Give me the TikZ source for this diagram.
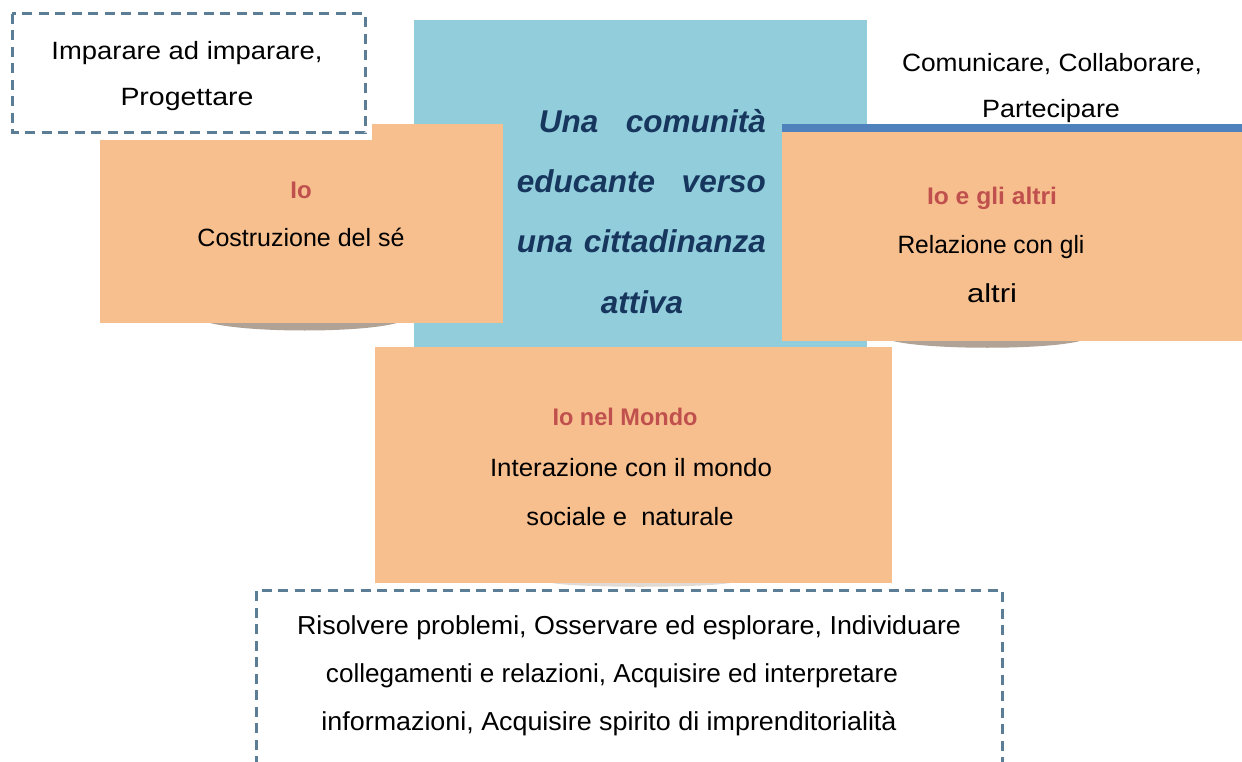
\documentclass[tikz,border=0pt]{standalone}
\usepackage{fontspec}
\setmainfont{Liberation Sans}
\usepackage{graphicx}
\definecolor{orangebox}{HTML}{F7BE8E}
\definecolor{centerblue}{HTML}{92CDDC}
\definecolor{barblue}{HTML}{4F81BD}
\definecolor{titlered}{HTML}{C0504D}
\definecolor{navytext}{HTML}{17365D}
\definecolor{dashblue}{HTML}{5B7D96}
\definecolor{shadowgrey}{HTML}{B0A395}
\newcommand{\fitw}[2]{\resizebox{#1}{\height}{#2}}
\begin{document}
\begin{tikzpicture}[x=1pt,y=-1pt,
  block/.style={draw=none,inner sep=0pt,outer sep=0pt,anchor=north west},
  orangeblock/.style={block,fill=orangebox},
  txt/.style={anchor=base,inner sep=0pt,font=\fontsize{25}{30}\selectfont},
  ttl/.style={anchor=base,inner sep=0pt,text=titlered,font=\fontsize{24}{30}\selectfont\bfseries},
  ctr/.style={anchor=base,inner sep=0pt,text=navytext,font=\fontsize{31.5}{36}\selectfont\bfseries\itshape},
  dashline/.style={draw=dashblue,line width=3pt,dash pattern=on 10pt off 6.5pt},
  shade/.style={fill=shadowgrey}]
\useasboundingbox (0,0) rectangle (1242,762);
\fill[white] (0,0) rectangle (1242,762);

% central blue box
\node[block,fill=centerblue,minimum width=453pt,minimum height=327pt] (center) at (414,20) {};

% shadows
\fill[shade] (210,323) .. controls (250,333) and (360,333) .. (397,323) -- cycle;
\fill[shade] (893,341) .. controls (930,350) and (1045,350) .. (1080,341) -- cycle;
\fill[shade,opacity=0.4] (552,583) .. controls (580,588) and (700,588) .. (730,583) -- cycle;

% left orange box
\node[orangeblock,minimum width=403pt,minimum height=199pt] (io) at (100,124) {};
% right orange box with blue bar
\node[block,fill=barblue,minimum width=460pt,minimum height=8pt] (bar) at (782,124) {};
\node[orangeblock,minimum width=460pt,minimum height=209pt] (altri) at (782,132) {};
% bottom orange box
\node[orangeblock,minimum width=517pt,minimum height=236pt] (mondo) at (375,347) {};

% top-left dashed box
\node[block,fill=white,minimum width=364pt,minimum height=132pt] (tlhalo) at (8,8) {};
\draw[dashline] (12,14) rectangle (365,133);
\node[block,minimum width=353pt,minimum height=119pt] (tlbox) at (12,14) {};

% bottom dashed box
\node[block,fill=white,minimum width=754pt,minimum height=176pt] (bhalo) at (252,588) {};
\draw[dashline] (256,766) -- (256,590) -- (1002,590) -- (1002,766);
\node[block,minimum width=746pt,minimum height=172pt] (bbox) at (256,590) {};

% texts top-left
\node[txt] (imp1) at (187,60) {\fitw{271pt}{Imparare ad imparare,}};
\node[txt] (imp2) at (187,106) {\fitw{133pt}{Progettare}};

% texts top-right
\node[txt] (com1) at (1052,72) {\fitw{300pt}{Comunicare, Collaborare,}};
\node[txt] (com2) at (1051,118) {\fitw{138pt}{Partecipare}};

% left box texts
\node[ttl] (ioT) at (301,199) {Io};
\node[txt] (ioS) at (301,247) {\fitw{207pt}{Costruzione del sé}};

% center texts
\node[ctr,anchor=base east] (c1) at (766,133) {\makebox[227pt][s]{Una comunità}};
\node[ctr,anchor=base east] (c2) at (766,193) {\makebox[249pt][s]{educante verso}};
\node[ctr,anchor=base east] (c3) at (766,252) {\makebox[249pt][s]{una cittadinanza}};
\node[ctr] (c4) at (642,313) {attiva};

% right box texts
\node[ttl] (altriT) at (992,205) {\fitw{130pt}{Io e gli altri}};
\node[txt] (altriS1) at (991,253) {\fitw{187pt}{Relazione con gli}};
\node[txt,font=\fontsize{26}{30}\selectfont] (altriS2) at (992,302) {\fitw{50pt}{altri}};

% bottom orange texts
\node[ttl] (mondoT) at (625,425) {\fitw{145pt}{Io nel Mondo}};
\node[txt] (mondoS1) at (631,476) {\fitw{282pt}{Interazione con il mondo}};
\node[txt] (mondoS2) at (630,525) {\fitw{207pt}{sociale e\ \ naturale}};

% bottom dashed texts
\node[txt,font=\fontsize{26}{30}\selectfont] (b1) at (629,634) {\fitw{664pt}{Risolvere problemi, Osservare ed esplorare, Individuare}};
\node[txt,font=\fontsize{26}{30}\selectfont] (b2) at (612,682) {\fitw{572pt}{collegamenti e relazioni, Acquisire ed interpretare}};
\node[txt,font=\fontsize{26}{30}\selectfont] (b3) at (609,730) {\fitw{575pt}{informazioni, Acquisire spirito di imprenditorialità}};
\end{tikzpicture}
\end{document}
